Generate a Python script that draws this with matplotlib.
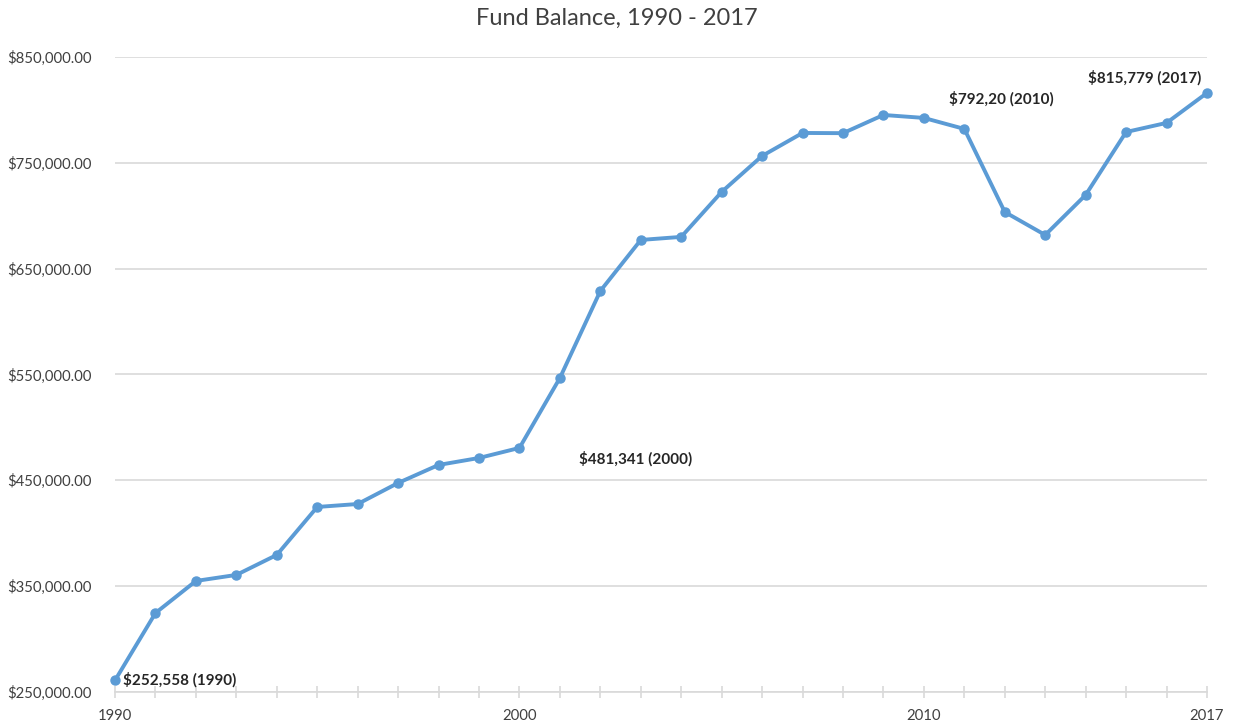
import numpy as np
import matplotlib.pyplot as plt
from matplotlib.ticker import FuncFormatter

plt.rcParams['font.family'] = ['Lato', 'DejaVu Sans']

# данные
years = list(range(1990, 2018))
balance = [261000, 324600, 354900, 360600, 379500, 424800, 427600, 447500,
           464500, 471100, 480600, 546700, 628900, 677100, 680000, 722500,
           756500, 778200, 778000, 795200, 792400, 782000, 703500, 681800,
           719600, 779100, 787700, 816000]
label_years = [1990, 2000, 2010, 2017]
label_texts = ['$252,558 (1990)', '$481,341 (2000)', '$792,20 (2010)', '$815,779 (2017)']
y_ticks = [250000, 350000, 450000, 550000, 650000, 750000, 850000]

blue = '#5B9BD5'
grid_c = '#D9D9D9'
text_c = '#404040'

fig = plt.figure(figsize=(12.33, 7.22), dpi=100)
ax = fig.add_axes([0.0933, 0.0416, 0.8856, 0.8795])

ax.plot(years, balance, color=blue, lw=2.8, marker='o', ms=6.5,
        clip_on=False, zorder=3)

ax.set_xlim(1990, 2017)
ax.set_ylim(250000, 850000)
ax.set_yticks(y_ticks)
ax.yaxis.set_major_formatter(FuncFormatter(lambda v, p: f'${v:,.2f}'))
ax.set_xticks(years)
ax.set_xticklabels([str(y) if y in label_years else '' for y in years])

ax.grid(axis='y', color=grid_c, lw=1.2)
ax.set_axisbelow(True)
for s in ['top', 'right', 'left']:
    ax.spines[s].set_visible(False)
ax.spines['bottom'].set_color(grid_c)
ax.spines['bottom'].set_linewidth(1.2)
ax.tick_params(axis='y', length=0, pad=17, labelsize=10.7, labelcolor=text_c)
ax.tick_params(axis='x', direction='inout', length=9, color=grid_c, width=1.2,
               pad=8, labelsize=10.7, labelcolor=text_c)

fig.text(0.5, 1 - 18 / 722, 'Fund Balance, 1990 - 2017', ha='center',
         va='center', fontsize=17, color=text_c)

# подписи точек
offsets = {1990: (6, 0, 'left'), 2000: (43, -8, 'left'),
           2010: (18, 14, 'left'), 2017: (-4, 11, 'right')}
for yr, txt in zip(label_years, label_texts):
    dx, dy, ha = offsets[yr]
    ax.annotate(txt, (yr, balance[years.index(yr)]), xytext=(dx, dy),
                textcoords='offset points', ha=ha, va='center',
                fontsize=11, fontweight='bold', color='#262626')

fig.savefig('out.png', dpi=100)
